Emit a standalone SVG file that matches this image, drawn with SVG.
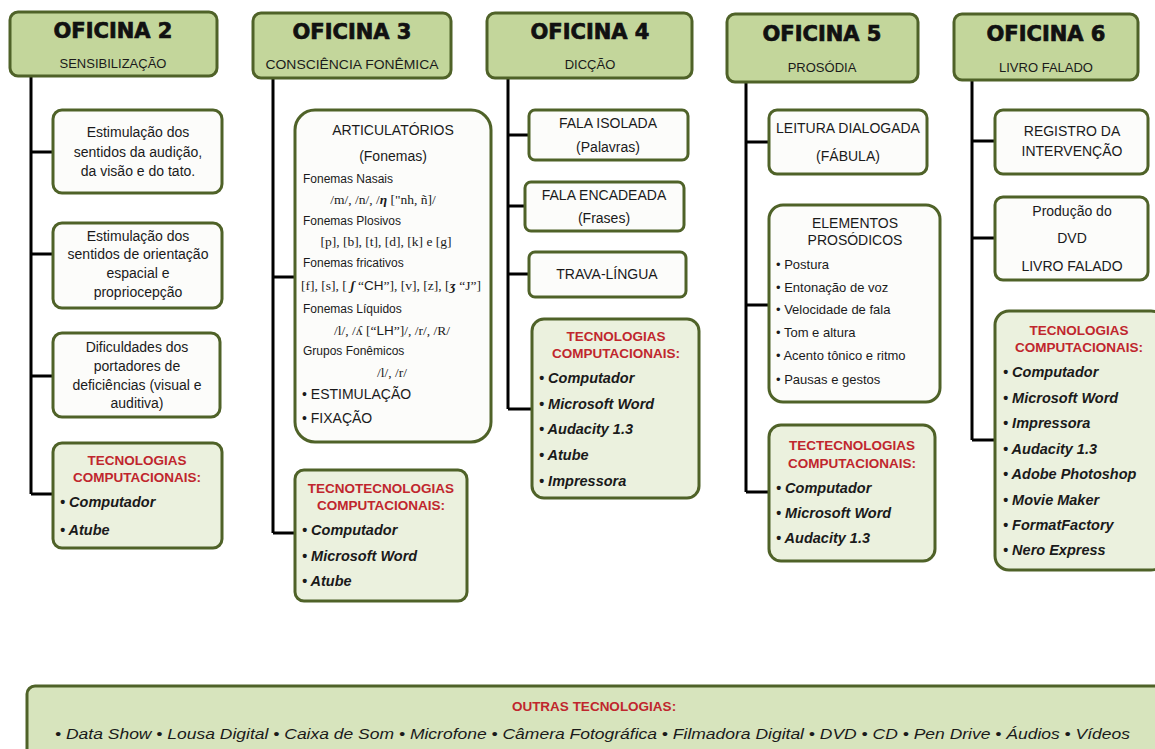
<svg xmlns="http://www.w3.org/2000/svg" width="1155" height="749" viewBox="0 0 1155 749">
<style>
text{font-family:"Liberation Sans",Arial,sans-serif;fill:#1a1a1a}
.hd{fill:#c3d69b;stroke:#4f6228;stroke-width:3}
.bx{fill:#fcfcfa;stroke:#4f6228;stroke-width:3}
.tb{fill:#ebf1de;stroke:#4f6228;stroke-width:3}
.bt{fill:#d7e4bd;stroke:#4f6228;stroke-width:3}
.ttl{font-family:"DejaVu Sans",sans-serif;font-weight:bold;font-size:21px;text-anchor:middle;fill:#111;stroke:#111;stroke-width:0.7}
.sub{font-size:13px;text-anchor:middle}
.c{font-size:14px;text-anchor:middle}
.st{font-size:14px;text-anchor:start}
.l{font-size:12px}
.s{font-family:"Liberation Serif",serif;font-size:13.5px;text-anchor:middle}
.red{font-size:13.5px;font-weight:bold;fill:#c0262d;text-anchor:middle}
.it{font-size:14.5px;font-style:italic;font-weight:bold}
.li{font-size:13px}
.con{stroke:#000;stroke-width:3;fill:none}
</style>

<g id="connectors">
<path class="con" d="M31 76V494M31 152H53M31 254H53M31 376H53M31 494H53"/>
<path class="con" d="M273 78V533M273 277H295M273 533H295"/>
<path class="con" d="M508 78V409M508 135H529M508 206H525M508 274H529M508 409H532"/>
<path class="con" d="M746 82V492M746 142H769M746 305H769M746 492H769"/>
<path class="con" d="M972 80V440M972 141H995M972 238H995M972 440H995"/>
</g>

<g id="oficina2">
<rect class="hd" x="10" y="12" width="207" height="64" rx="8"/>
<text class="ttl" x="113" y="38">OFICINA 2</text>
<text class="sub" x="113" y="68">SENSIBILIZAÇÃO</text>
</g>
<g id="o2-b1">
<rect class="bx" x="53" y="110" width="169" height="83" rx="9"/>
<text class="c" x="138" y="137">Estimulação  dos</text>
<text class="c" x="138" y="157">sentidos da audição,</text>
<text class="c" x="138" y="176">da visão e do tato.</text>
</g>
<g id="o2-b2">
<rect class="bx" x="53" y="223" width="169" height="85" rx="9"/>
<text class="c" x="138" y="241">Estimulação  dos</text>
<text class="c" x="138" y="259">sentidos de orientação</text>
<text class="c" x="138" y="278">espacial e</text>
<text class="c" x="138" y="297">propriocepção</text>
</g>
<g id="o2-b3">
<rect class="bx" x="53" y="333" width="167" height="84" rx="9"/>
<text class="c" x="137" y="352">Dificuldades dos</text>
<text class="c" x="137" y="371">portadores de</text>
<text class="c" x="137" y="390">deficiências (visual e</text>
<text class="c" x="137" y="408">auditiva)</text>
</g>
<g id="o2-tec">
<rect class="tb" x="53" y="443" width="169" height="105" rx="9"/>
<text class="red" x="137" y="465">TECNOLOGIAS</text>
<text class="red" x="137" y="482">COMPUTACIONAIS:</text>
<text class="it" x="60" y="507">• Computador</text>
<text class="it" x="60" y="535">• Atube</text>
</g>

<g id="oficina3">
<rect class="hd" x="253" y="13" width="198" height="65" rx="8"/>
<text class="ttl" x="352" y="39">OFICINA 3</text>
<text class="sub" x="352" y="69" textLength="173" lengthAdjust="spacingAndGlyphs">CONSCIÊNCIA FONÊMICA</text>
</g>
<g id="o3-art">
<rect class="bx" x="295" y="110" width="196" height="332" rx="20"/>
<text class="c" x="393" y="135">ARTICULATÓRIOS</text>
<text class="c" x="393" y="161">(Fonemas)</text>
<text class="l" x="303" y="183">Fonemas Nasais</text>
<text class="s" x="383" y="204">/m/, /n/, /<tspan font-style="italic" font-weight="bold">η</tspan> ["nh, ñ]/</text>
<text class="l" x="303" y="225">Fonemas Plosivos</text>
<text class="s" x="386" y="246">[p],  [b],  [t],  [d],  [k] e [g]</text>
<text class="l" x="303" y="267">Fonemas fricativos</text>
<text class="s" x="391" y="290">[f], [s], [ <tspan font-style="italic" font-weight="bold">ʃ</tspan> “<tspan font-family="Liberation Sans">CH</tspan>”], [v], [z], [<tspan font-style="italic" font-weight="bold">ʒ</tspan> “J”]</text>
<text class="l" x="303" y="313">Fonemas Líquidos</text>
<text class="s" x="392" y="335">/l/, /ʎ [“<tspan font-family="Liberation Sans">LH</tspan>”]/, /r/, /R/</text>
<text class="l" x="303" y="355">Grupos Fonêmicos</text>
<text class="s" x="392" y="377">/l/, /r/</text>
<text class="st" x="302" y="399">• ESTIMULAÇÃO</text>
<text class="st" x="302" y="423">• FIXAÇÃO</text>
</g>
<g id="o3-tec">
<rect class="tb" x="295" y="470" width="172" height="131" rx="9"/>
<text class="red" x="381" y="493">TECNOTECNOLOGIAS</text>
<text class="red" x="381" y="510">COMPUTACIONAIS:</text>
<text class="it" x="302" y="535">• Computador</text>
<text class="it" x="302" y="561">• Microsoft Word</text>
<text class="it" x="302" y="586">• Atube</text>
</g>

<g id="oficina4">
<rect class="hd" x="487" y="13" width="205" height="65" rx="8"/>
<text class="ttl" x="590" y="39">OFICINA 4</text>
<text class="sub" x="590" y="69">DICÇÃO</text>
</g>
<g id="o4-b1">
<rect class="bx" x="529" y="110" width="159" height="50" rx="6"/>
<text class="c" x="608" y="128">FALA ISOLADA</text>
<text class="c" x="608" y="152" font-size="13">(Palavras)</text>
</g>
<g id="o4-b2">
<rect class="bx" x="525" y="182" width="159" height="49" rx="6"/>
<text class="c" x="604" y="200">FALA ENCADEADA</text>
<text class="c" x="604" y="223" font-size="13">(Frases)</text>
</g>
<g id="o4-b3">
<rect class="bx" x="529" y="252" width="157" height="45" rx="6"/>
<text class="c" x="607" y="279">TRAVA-LÍNGUA</text>
</g>
<g id="o4-tec">
<rect class="tb" x="532" y="319" width="167" height="179" rx="12"/>
<text class="red" x="616" y="341">TECNOLOGIAS</text>
<text class="red" x="616" y="358">COMPUTACIONAIS:</text>
<text class="it" x="539" y="383">• Computador</text>
<text class="it" x="539" y="409">• Microsoft Word</text>
<text class="it" x="539" y="434">• Audacity 1.3</text>
<text class="it" x="539" y="460">• Atube</text>
<text class="it" x="539" y="486">• Impressora</text>
</g>

<g id="oficina5">
<rect class="hd" x="727" y="14" width="191" height="68" rx="8"/>
<text class="ttl" x="822" y="41">OFICINA 5</text>
<text class="sub" x="822" y="72">PROSÓDIA</text>
</g>
<g id="o5-b1">
<rect class="bx" x="769" y="110" width="158" height="64" rx="8"/>
<text class="c" x="848" y="133">LEITURA DIALOGADA</text>
<text class="c" x="848" y="161">(FÁBULA)</text>
</g>
<g id="o5-b2">
<rect class="bx" x="769" y="205" width="171" height="197" rx="14"/>
<text class="c" x="855" y="228" font-size="13">ELEMENTOS</text>
<text class="c" x="855" y="245" font-size="13">PROSÓDICOS</text>
<text class="li" x="776" y="269">• Postura</text>
<text class="li" x="776" y="292">• Entonação de voz</text>
<text class="li" x="776" y="314">• Velocidade de fala</text>
<text class="li" x="776" y="337">• Tom e altura</text>
<text class="li" x="776" y="360">• Acento tônico e ritmo</text>
<text class="li" x="776" y="384">• Pausas e gestos</text>
</g>
<g id="o5-tec">
<rect class="tb" x="769" y="425" width="166" height="136" rx="12"/>
<text class="red" x="852" y="450">TECTECNOLOGIAS</text>
<text class="red" x="852" y="468">COMPUTACIONAIS:</text>
<text class="it" x="776" y="493">• Computador</text>
<text class="it" x="776" y="518">• Microsoft Word</text>
<text class="it" x="776" y="543">• Audacity 1.3</text>
</g>

<g id="oficina6">
<rect class="hd" x="954" y="14" width="184" height="66" rx="8"/>
<text class="ttl" x="1046" y="41">OFICINA 6</text>
<text class="sub" x="1046" y="72">LIVRO FALADO</text>
</g>
<g id="o6-b1">
<rect class="bx" x="995" y="110" width="153" height="64" rx="8"/>
<text class="c" x="1072" y="136">REGISTRO DA</text>
<text class="c" x="1072" y="156">INTERVENÇÃO</text>
</g>
<g id="o6-b2">
<rect class="bx" x="995" y="197" width="153" height="83" rx="8"/>
<text class="c" x="1072" y="216">Produção do</text>
<text class="c" x="1072" y="243">DVD</text>
<text class="c" x="1072" y="271">LIVRO FALADO</text>
</g>
<g id="o6-tec">
<rect class="tb" x="995" y="311" width="170" height="259" rx="14"/>
<text class="red" x="1079" y="335">TECNOLOGIAS</text>
<text class="red" x="1079" y="352">COMPUTACIONAIS:</text>
<text class="it" x="1003" y="377">• Computador</text>
<text class="it" x="1003" y="403">• Microsoft Word</text>
<text class="it" x="1003" y="428">• Impressora</text>
<text class="it" x="1003" y="454">• Audacity 1.3</text>
<text class="it" x="1003" y="479">• Adobe Photoshop</text>
<text class="it" x="1003" y="505">• Movie Maker</text>
<text class="it" x="1003" y="530">• FormatFactory</text>
<text class="it" x="1003" y="555">• Nero Express</text>
</g>

<g id="outras">
<rect class="bt" x="27" y="686" width="1140" height="80" rx="8"/>
<text class="red" x="594" y="711" font-size="14">OUTRAS TECNOLOGIAS:</text>
<text x="55" y="739" font-size="15" font-style="italic" textLength="1075" lengthAdjust="spacingAndGlyphs">• Data Show • Lousa Digital • Caixa de Som • Microfone  • Câmera Fotográfica • Filmadora Digital • DVD • CD • Pen Drive • Áudios • Vídeos</text>
</g>
</svg>
